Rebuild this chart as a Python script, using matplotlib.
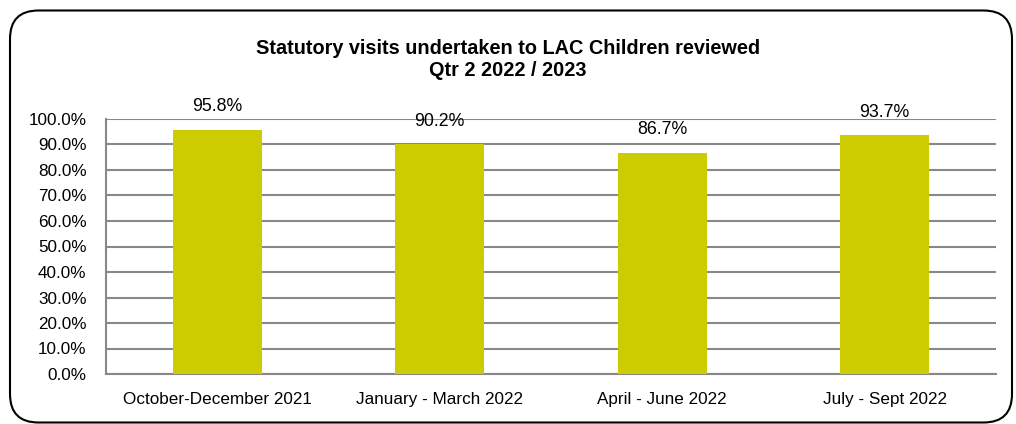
import matplotlib
matplotlib.use("Agg")
import matplotlib.pyplot as plt
from matplotlib.patches import FancyBboxPatch
from matplotlib.ticker import FuncFormatter, MultipleLocator

categories = ["October-December 2021", "January - March 2022", "April - June 2022", "July - Sept 2022"]
values = [95.8, 90.2, 86.7, 93.7]
title = "Statutory visits undertaken to LAC Children reviewed\nQtr 2 2022 / 2023"

plt.rcParams['font.family'] = ['Liberation Sans', 'DejaVu Sans']

W, H = 1016, 424
fig = plt.figure(figsize=(W / 100, H / 100), dpi=100)

# rounded frame
frame = FancyBboxPatch((10 / W, 1.5 / H), 1002 / W, 412 / H,
                       boxstyle="round,pad=0,rounding_size=0.028",
                       transform=fig.transFigure, fill=False,
                       edgecolor="black", linewidth=1.5, mutation_aspect=W / H)
fig.patches.append(frame)

ax = fig.add_axes([106 / W, (H - 374) / H, 890 / W, (374 - 119) / H])
x = range(len(categories))
ax.bar(x, values, width=0.4, color="#CCCC00", zorder=3)
ax.set_xlim(-0.5, len(categories) - 0.5)
ax.set_ylim(0, 100)
ax.yaxis.set_major_locator(MultipleLocator(10))
ax.yaxis.set_major_formatter(FuncFormatter(lambda v, p: f"{v:.1f}%"))
ax.set_xticks(list(x))
ax.set_xticklabels(categories)
ax.tick_params(axis="both", length=0, labelsize=12.3, colors="black")
ax.tick_params(axis="x", pad=13)
ax.tick_params(axis="y", pad=14)
ax.grid(axis="y", color="#888888", linewidth=1.5, zorder=0)
for s in ["top", "right"]:
    ax.spines[s].set_visible(False)
for s in ["left", "bottom"]:
    ax.spines[s].set_color("#888888")
    ax.spines[s].set_linewidth(1.5)

for xi, v in zip(x, values):
    ax.annotate(f"{v:.1f}%", (xi, v), xytext=(0, 16.5), textcoords="offset points",
                ha="center", va="center", fontsize=12.8, zorder=4)

fig.text(0.5, (H - 60) / H, title, ha="center", va="center", fontsize=14.3,
         fontweight="bold", linespacing=1.2)

fig.savefig("out.png", dpi=100)
